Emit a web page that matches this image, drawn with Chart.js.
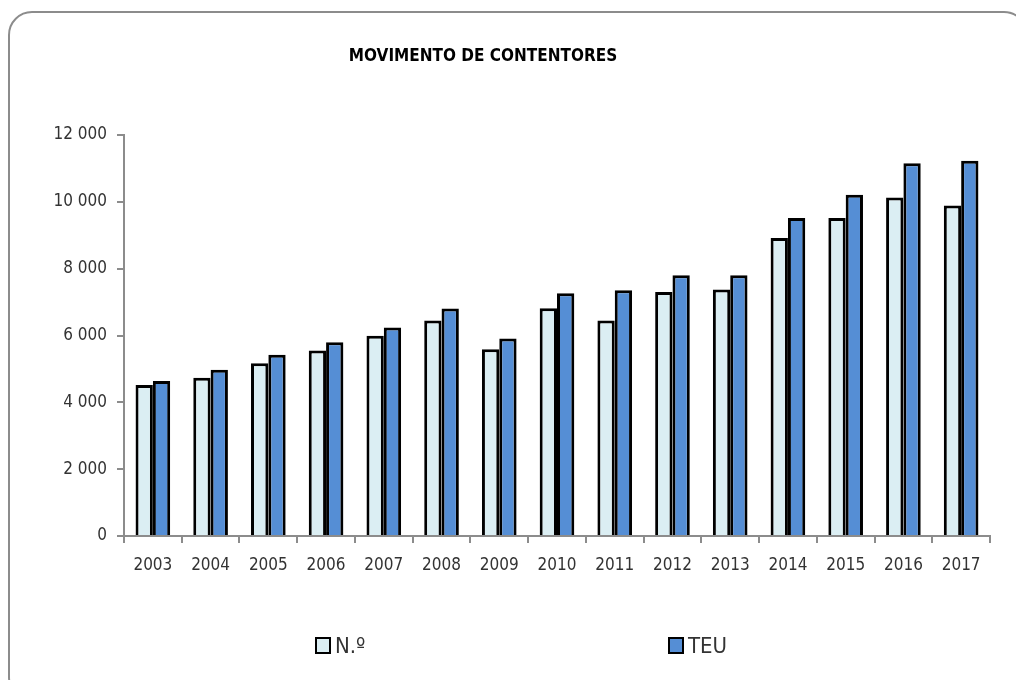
<!DOCTYPE html>
<html>
<head>
<meta charset="utf-8">
<script src="https://cdn.jsdelivr.net/npm/chart.js@4.4.0/dist/chart.umd.min.js"></script>
<style>
  html, body { margin: 0; padding: 0; background: #fff; }
  .wrap { position: relative; width: 1016px; height: 680px; overflow: hidden; }
  .frame {
    position: absolute; left: 8px; top: 11px; width: 1020px; height: 690px;
    border: 2.5px solid #8c8c8c; border-radius: 24px; box-sizing: border-box;
  }
  canvas { position: absolute; left: 0; top: 0; }
  .title {
    position: absolute; left: 283px; width: 400px; top: 45px; text-align: center;
    font: bold 17px 'DejaVu Sans Condensed', 'Liberation Sans Narrow', sans-serif; color: #000;
  }
  .legend-item {
    position: absolute; top: 632px; height: 26px; display: flex; align-items: center;
    font: 22px 'DejaVu Sans Condensed', 'Liberation Sans Narrow', sans-serif; color: #333;
  }
  .legend-item span.box {
    display: inline-block; width: 16px; height: 17px; border: 2.5px solid #000;
    box-sizing: border-box; margin-right: 4px;
  }
</style>
</head>
<body>
<div class="wrap">
  <div class="frame"></div>
  <canvas id="containers-chart" width="1016" height="680"></canvas>
  <div class="title">MOVIMENTO DE CONTENTORES</div>
  <div class="legend-item" style="left:315px"><span class="box" style="background:#dbeef3"></span>N.º</div>
  <div class="legend-item" style="left:668px"><span class="box" style="background:#558ed5"></span>TEU</div>
</div>
<script>
const years = ["2003", "2004", "2005", "2006", "2007", "2008", "2009", "2010",
  "2011", "2012", "2013", "2014", "2015", "2016", "2017"];
const containersNo = [4516, 4737, 5173, 5552, 5991, 6448, 5591, 6815,
  6448, 7304, 7373, 8916, 9513, 10128, 9890];
const containersTeu = [4636, 4975, 5423, 5800, 6239, 6806, 5910, 7263,
  7353, 7800, 7800, 9513, 10209, 11155, 11233];
const yTicks = [0, 2000, 4000, 6000, 8000, 10000, 12000];

const tickFont = { family: "'DejaVu Sans Condensed', 'Liberation Sans Narrow', sans-serif", size: 17 };

function formatThousands(v) {
  return String(v).replace(/\B(?=(\d{3})+(?!\d))/g, ' ');
}

function initChart() {
  const ctx = document.getElementById("containers-chart");
  const data = {
    labels: years,
    datasets: [{
      label: "N.º",
      data: containersNo,
      backgroundColor: "#dbeef3",
      borderColor: "#000",
      borderWidth: 3,
      categoryPercentage: 0.6,
      barPercentage: 1.0
    }, {
      label: "TEU",
      data: containersTeu,
      backgroundColor: "#558ed5",
      borderColor: "#000",
      borderWidth: 3,
      categoryPercentage: 0.6,
      barPercentage: 1.0
    }]
  };
  const config = {
    type: 'bar',
    data: data,
    options: {
      responsive: false,
      animation: false,
      layout: {
        padding: { left: 0, top: 135, right: 26, bottom: 94 }
      },
      plugins: {
        legend: { display: false },
        title: { display: false },
        tooltip: { enabled: false }
      },
      scales: {
        x: {
          grid: { display: true, drawOnChartArea: false, offset: true, tickLength: 7, color: "#8c8c8c", lineWidth: 2 },
          border: { color: "#8c8c8c", width: 2 },
          ticks: { font: tickFont, color: "#333", padding: 12, maxRotation: 0 },
          afterFit: (scale) => { scale.height = 50; }
        },
        y: {
          min: 0,
          max: 12000,
          afterBuildTicks: (scale) => { scale.ticks = yTicks.map(v => ({ value: v })); },
          grid: { display: true, drawOnChartArea: false, tickLength: 7, color: "#8c8c8c", lineWidth: 2 },
          border: { color: "#8c8c8c", width: 2 },
          ticks: { font: tickFont, color: "#333", padding: 10, callback: (v) => formatThousands(v) },
          afterFit: (scale) => { scale.width = 124; }
        }
      }
    }
  };
  return new Chart(ctx, config);
}

const containersChart = initChart();
</script>
</body>
</html>
